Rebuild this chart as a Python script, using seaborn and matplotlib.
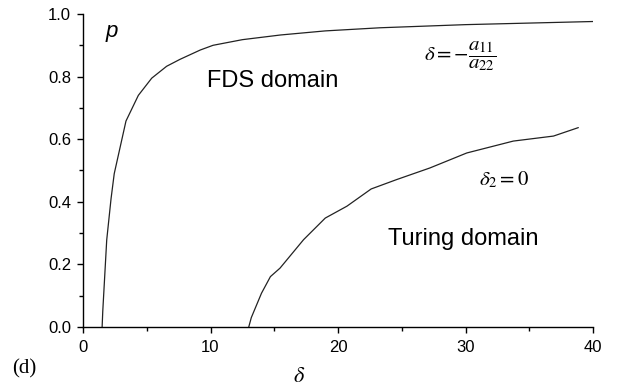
import matplotlib
matplotlib.use("Agg")
import matplotlib.pyplot as plt
import seaborn as sns
import pandas as pd
from matplotlib.ticker import MultipleLocator

# Data
fds_delta = [1.5, 1.55, 1.86, 2.2, 2.45, 3.37, 4.34, 5.39, 6.56, 7.6, 9.2, 10.2, 12.5, 15.5, 19.0, 23.3, 30.0, 40.0]
fds_p = [0.0, 0.05, 0.278, 0.41, 0.49, 0.658, 0.74, 0.795, 0.833, 0.855, 0.885, 0.90, 0.918, 0.933, 0.946, 0.956, 0.966, 0.976]

turing_delta = [13.0, 13.2, 14.0, 14.7, 15.45, 17.3, 19.0, 20.7, 22.6, 24.6, 27.2, 30.1, 33.75, 36.9, 38.85]
turing_p = [0.0, 0.03, 0.108, 0.161, 0.188, 0.279, 0.348, 0.386, 0.441, 0.471, 0.508, 0.556, 0.594, 0.61, 0.637]

x_ticks = [0, 10, 20, 30, 40]
y_ticks = [0.0, 0.2, 0.4, 0.6, 0.8, 1.0]

sns.set_style("ticks")
plt.rcParams['font.family'] = ['Liberation Sans', 'DejaVu Sans']
plt.rcParams['mathtext.fontset'] = 'stix'
plt.rcParams['text.color'] = 'black'

fig = plt.figure(figsize=(6.18, 3.88), dpi=100)
ax = fig.add_axes([83/618, 1-327/388, (593-83)/618, (327-14)/388])

df1 = pd.DataFrame({"delta": fds_delta, "p": fds_p})
df2 = pd.DataFrame({"delta": turing_delta, "p": turing_p})
sns.lineplot(data=df1, x="delta", y="p", ax=ax, color="#222222", lw=0.9, estimator=None, sort=False)
sns.lineplot(data=df2, x="delta", y="p", ax=ax, color="#222222", lw=0.9, estimator=None, sort=False)

ax.set_xlim(0, 40)
ax.set_ylim(0, 1.0)
ax.set_xticks(x_ticks)
ax.set_yticks(y_ticks)
ax.set_xticklabels([str(t) for t in x_ticks])
ax.set_yticklabels([f"{t:.1f}" for t in y_ticks])
ax.xaxis.set_minor_locator(MultipleLocator(5))
ax.yaxis.set_minor_locator(MultipleLocator(0.1))
ax.tick_params(which='major', direction='out', length=4.5, width=1.0, labelsize=12, color='black', labelcolor='black')
ax.tick_params(axis='y', which='major', pad=4)
ax.tick_params(axis='x', which='major', pad=5)
ax.tick_params(which='minor', direction='out', length=3, width=1.0, color='black')
for s in ['top', 'right']:
    ax.spines[s].set_visible(False)
for s in ['left', 'bottom']:
    ax.spines[s].set_linewidth(1.0)
    ax.spines[s].set_color('black')
ax.set_xlabel("")
ax.set_ylabel("")

ax.text(2.25, 0.944, "p", style='italic', fontsize=16, ha='center', va='center', color='black')
ax.text(14.9, 0.785, "FDS domain", fontsize=17, ha='center', va='center', color='black')
ax.text(29.8, 0.281, "Turing domain", fontsize=17, ha='center', va='center', color='black')
ax.text(29.6, 0.867, r"$\delta = -\dfrac{a_{11}}{a_{22}}$", fontsize=15, ha='center', va='center', color='black')
ax.text(33.0, 0.47, r"$\delta_2 = 0$", fontsize=15, ha='center', va='center', color='black')

fig.text(299/618, 1-376/388, r"$\delta$", fontsize=16, ha='center', va='center', color='black')
fig.text(24/618, 1-369/388, "(d)", fontsize=15, family=['Liberation Serif', 'DejaVu Serif'], ha='center', va='center', color='black')

fig.savefig("out.png", dpi=100)
